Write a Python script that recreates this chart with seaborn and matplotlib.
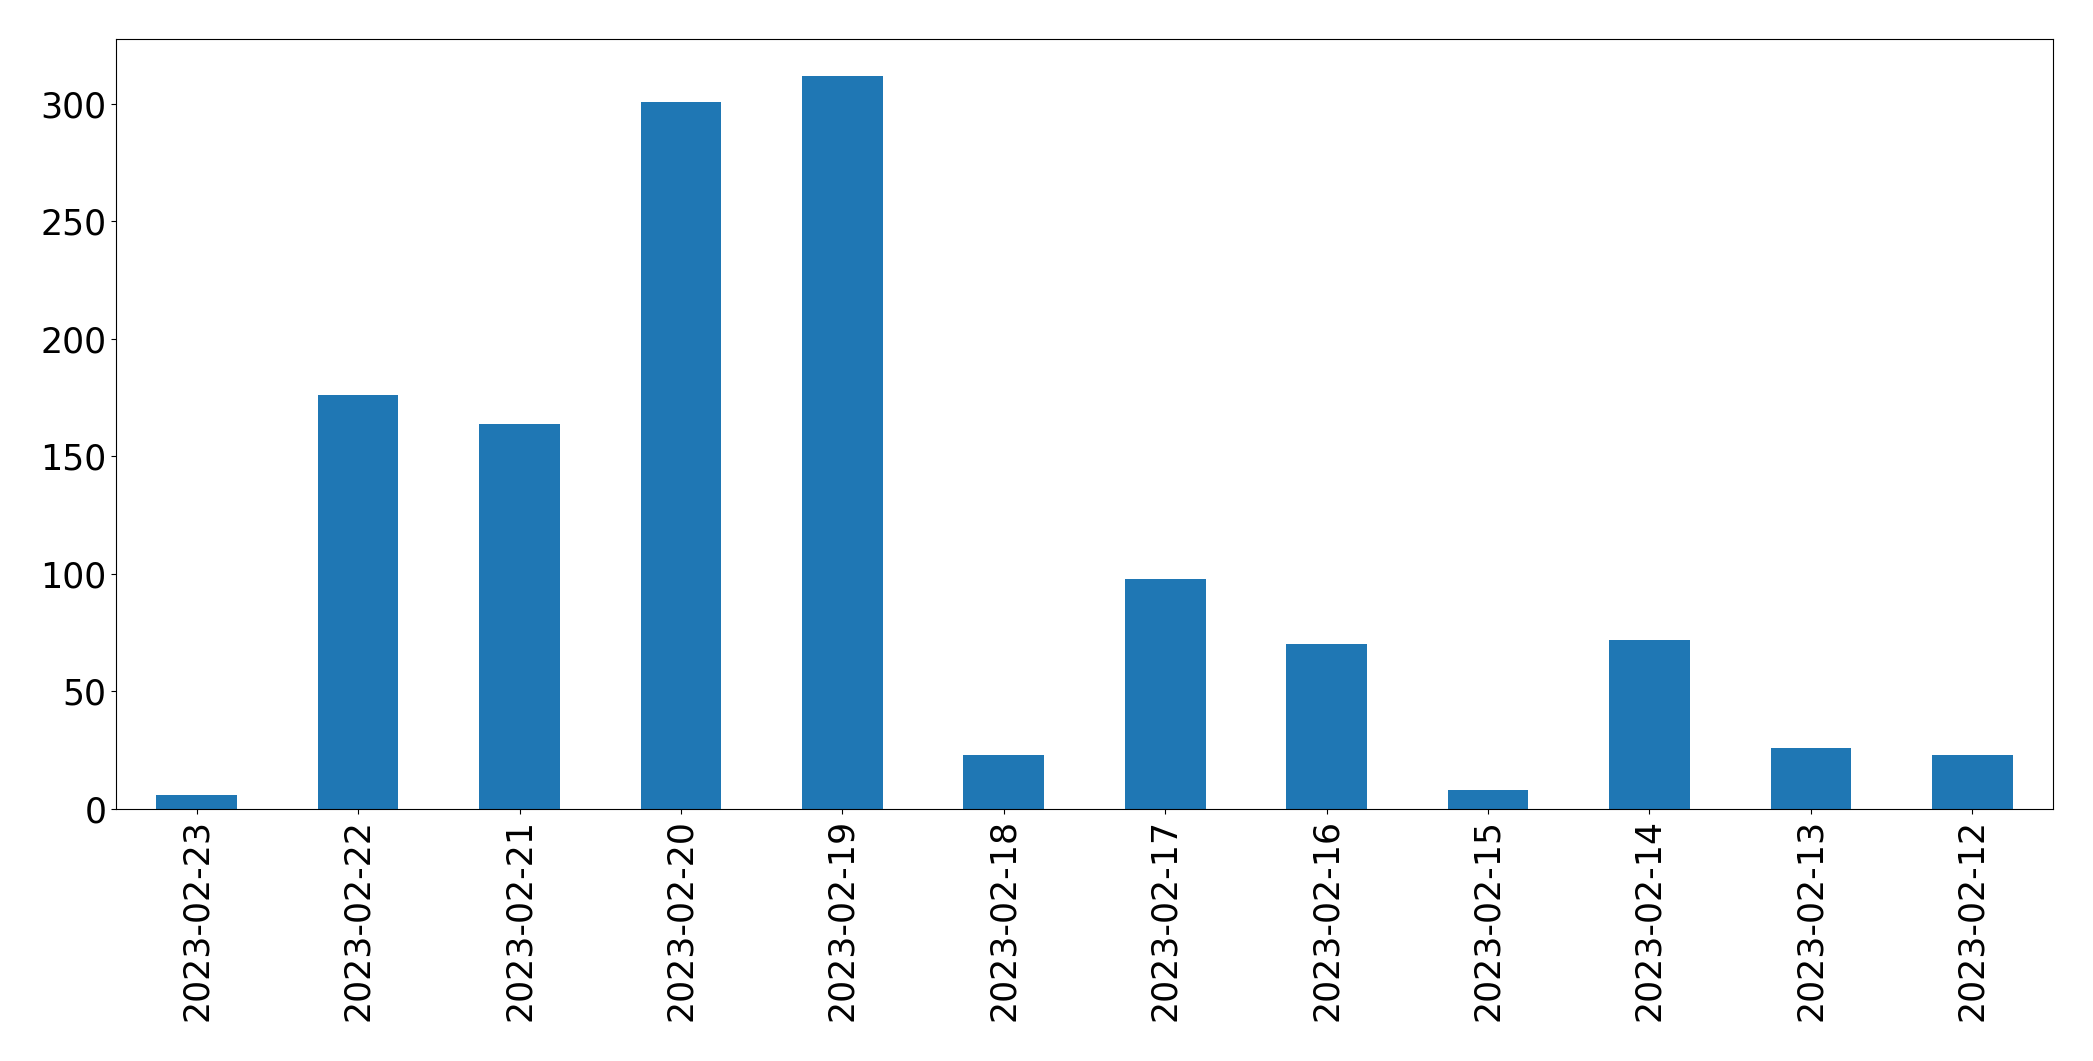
import matplotlib
matplotlib.use("Agg")
import matplotlib.pyplot as plt
import seaborn as sns
import pandas as pd

dates = ["2023-02-23", "2023-02-22", "2023-02-21", "2023-02-20", "2023-02-19", "2023-02-18",
         "2023-02-17", "2023-02-16", "2023-02-15", "2023-02-14", "2023-02-13", "2023-02-12"]
counts = [6, 176, 164, 301, 312, 23, 98, 70, 8, 72, 26, 23]

df = pd.DataFrame({"date": dates, "count": counts})

fig, ax = plt.subplots(figsize=(20.93, 10.61), dpi=100)
fig.subplots_adjust(left=116/2093, right=2053/2093, top=1-39/1061, bottom=1-809/1061)

sns.barplot(data=df, x="date", y="count", order=dates, color="#1f77b4",
            saturation=1, width=0.5, ax=ax)
ax.set_xlim(-0.5, len(dates) - 0.5)
ax.set_ylim(0, max(counts) * 1.05)
ax.set_xlabel("")
ax.set_ylabel("")
ax.tick_params(axis="both", labelsize=25, colors="black")
ax.tick_params(axis="x", labelrotation=90)
for s in ax.spines.values():
    s.set_visible(True)
    s.set_color("black")

fig.savefig("out.png", dpi=100)
